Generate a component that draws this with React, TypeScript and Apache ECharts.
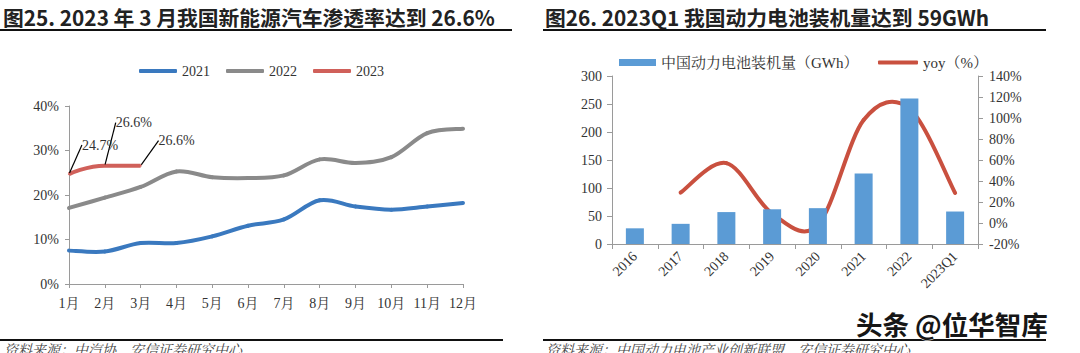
import React, { useEffect, useRef } from "react";
import * as echarts from "echarts";

const months = ["1月", "2月", "3月", "4月", "5月", "6月", "7月", "8月", "9月", "10月", "11月", "12月"];
const pen2021 = [7.5, 7.3, 9.2, 9.2, 10.7, 13.1, 14.5, 18.8, 17.4, 16.7, 17.4, 18.2];
const pen2022 = [17.1, 19.4, 21.8, 25.3, 24.0, 23.8, 24.4, 28.0, 27.2, 28.5, 33.9, 34.9];
const pen2023 = [24.7, 26.6, 26.6];
const penTicks = { min: 0, max: 40, interval: 10 };

const years = ["2016", "2017", "2018", "2019", "2020", "2021", "2022", "2023Q1"];
const installed = [28, 36, 57, 62, 64, 126, 260, 58];
const yoy: (number | null)[] = [null, 29, 57, 9, -2, 98, 109, 28.6];
const installTicks = { min: 0, max: 300, interval: 50 };
const yoyTicks = { min: -20, max: 140, interval: 20 };

const leftTitle = "图25. 2023 年 3 月我国新能源汽车渗透率达到 26.6%";
const rightTitle = "图26. 2023Q1 我国动力电池装机量达到 59GWh";
const leftSource = "资料来源：中汽协，安信证券研究中心";
const rightSource = "资料来源：中国动力电池产业创新联盟，安信证券研究中心";
const watermark = "头条 @位华智库";
const barName = "中国动力电池装机量（GWh）";
const yoyName = "yoy（%）";

const serif = "'Liberation Serif', 'Times New Roman', 'Noto Serif CJK SC', 'Noto Sans CJK SC', serif";
const sans = "'Noto Sans CJK SC', 'Noto Sans', sans-serif";
const axisColor = "#9a9a9a";
const textColor = "#333";

// Excel-like (Catmull-Rom) smoothed line drawn through the axes' own scales.
function smoothLine(name: string, values: (number | null)[], color: string, xAxisIndex: number, yAxisIndex: number) {
  return {
    name,
    type: "custom",
    xAxisIndex,
    yAxisIndex,
    data: values.map((v, i) => [i, v == null ? "-" : v]),
    encode: { x: 0, y: 1 },
    itemStyle: { color },
    clip: false,
    renderItem: (params: any, api: any) => {
      const i = params.dataIndex;
      const pts = values.map((v, k) => (v == null ? null : api.coord([k, v])));
      const p1 = pts[i];
      const p2 = pts[i + 1];
      if (!p1 || !p2) return { type: "group", children: [] };
      const p0 = pts[i - 1] || p1;
      const p3 = pts[i + 2] || p2;
      return {
        type: "bezierCurve",
        shape: {
          x1: p1[0],
          y1: p1[1],
          cpx1: p1[0] + (p2[0] - p0[0]) / 6,
          cpy1: p1[1] + (p2[1] - p0[1]) / 6,
          cpx2: p2[0] - (p3[0] - p1[0]) / 6,
          cpy2: p2[1] - (p3[1] - p1[1]) / 6,
          x2: p2[0],
          y2: p2[1],
        },
        style: { stroke: color, lineWidth: 4, fill: null, lineCap: "round" },
      };
    },
  };
}

export default function App() {
  const ref = useRef<HTMLDivElement>(null);
  useEffect(() => {
    document.body.style.margin = "0";
    if (!ref.current) return;
    const chart = echarts.init(ref.current, undefined, { renderer: "svg" });
    const axisLabel = { fontFamily: serif, fontSize: 14, color: textColor };
    const labelOffsets = [
      { dx: 31, dy: -16 },
      { dx: 29, dy: -30 },
      { dx: 36, dy: -12 },
    ];
    chart.setOption({
      animation: false,
      backgroundColor: "#fff",
      grid: [
        { left: 69, top: 106, width: 394, height: 178 },
        { left: 612, top: 76, width: 366, height: 168 },
      ],
      legend: [
        {
          data: ["2021", "2022", "2023"],
          left: 134,
          top: 59,
          icon: "roundRect",
          itemWidth: 38,
          itemHeight: 4,
          itemGap: 16,
          textStyle: { fontFamily: serif, fontSize: 14, color: textColor },
        },
        {
          data: [barName],
          left: 614,
          top: 50,
          icon: "rect",
          itemWidth: 37,
          itemHeight: 7,
          textStyle: { fontFamily: serif, fontSize: 15, color: textColor },
        },
        {
          data: [yoyName],
          left: 873,
          top: 50,
          icon: "roundRect",
          itemWidth: 40,
          itemHeight: 4,
          textStyle: { fontFamily: serif, fontSize: 15, color: textColor },
        },
      ],
      xAxis: [
        {
          gridIndex: 0,
          type: "category",
          data: months,
          boundaryGap: false,
          axisLine: { lineStyle: { color: axisColor } },
          axisTick: { show: true, length: 4, interval: 0, lineStyle: { color: axisColor } },
          axisLabel: { ...axisLabel, margin: 12, interval: 0 },
        },
        {
          gridIndex: 1,
          type: "category",
          data: years,
          boundaryGap: true,
          axisLine: { lineStyle: { color: axisColor } },
          axisTick: { show: true, length: 5, lineStyle: { color: axisColor } },
          axisLabel: { ...axisLabel, rotate: 45, margin: 10, interval: 0 },
        },
      ],
      yAxis: [
        {
          gridIndex: 0,
          type: "value",
          ...penTicks,
          axisLine: { show: true, lineStyle: { color: axisColor } },
          axisTick: { show: true, length: 4, lineStyle: { color: axisColor } },
          splitLine: { show: false },
          axisLabel: { ...axisLabel, formatter: "{value}%", margin: 10 },
        },
        {
          gridIndex: 1,
          type: "value",
          position: "left",
          ...installTicks,
          axisLine: { show: true, lineStyle: { color: axisColor } },
          axisTick: { show: true, length: 5, lineStyle: { color: axisColor } },
          splitLine: { show: false },
          axisLabel: { ...axisLabel, margin: 10 },
        },
        {
          gridIndex: 1,
          type: "value",
          position: "right",
          ...yoyTicks,
          axisLine: { show: true, lineStyle: { color: axisColor } },
          axisTick: { show: true, length: 5, lineStyle: { color: axisColor } },
          splitLine: { show: false },
          axisLabel: { ...axisLabel, formatter: "{value}%", margin: 11 },
        },
      ],
      series: [
        smoothLine("2021", pen2021, "#3a79bf", 0, 0),
        smoothLine("2022", pen2022, "#8a8a8a", 0, 0),
        {
          name: "2023",
          type: "line",
          xAxisIndex: 0,
          yAxisIndex: 0,
          data: pen2023,
          smooth: true,
          symbol: "circle",
          symbolSize: 2,
          lineStyle: { width: 4, color: "#d0605a" },
          itemStyle: { color: "#d0605a" },
          label: {
            show: true,
            position: "top",
            formatter: (p: any) => p.value.toFixed(1) + "%",
            fontFamily: serif,
            fontSize: 14,
            color: textColor,
          },
          labelLine: { show: true, lineStyle: { color: "#000", width: 1.2 } },
          labelLayout: (p: any) => labelOffsets[p.dataIndex],
        },
        {
          name: barName,
          type: "bar",
          xAxisIndex: 1,
          yAxisIndex: 1,
          data: installed,
          barWidth: 18,
          itemStyle: { color: "#5b9bd5" },
        },
        smoothLine(yoyName, yoy, "#c9503f", 1, 2),
      ],
      graphic: [
        {
          type: "text",
          x: 3,
          y: 17,
          style: { text: leftTitle, font: `bold 20.8px ${sans}`, fill: "#222", verticalAlign: "middle" },
        },
        { type: "line", shape: { x1: 0, y1: 30, x2: 512, y2: 30 }, style: { stroke: "#111", lineWidth: 2 } },
        {
          type: "text",
          x: 545,
          y: 17,
          style: { text: rightTitle, font: `bold 20.8px ${sans}`, fill: "#222", verticalAlign: "middle" },
        },
        { type: "line", shape: { x1: 543, y1: 30, x2: 1046, y2: 30 }, style: { stroke: "#111", lineWidth: 2 } },
        { type: "line", shape: { x1: 0, y1: 340, x2: 503, y2: 340 }, style: { stroke: "#111", lineWidth: 2 } },
        { type: "line", shape: { x1: 543, y1: 340, x2: 1046, y2: 340 }, style: { stroke: "#111", lineWidth: 2 } },
        {
          type: "text",
          x: 4,
          y: 343,
          style: { text: leftSource, font: `italic 14px ${serif}`, fill: "#444" },
        },
        {
          type: "text",
          x: 546,
          y: 343,
          style: { text: rightSource, font: `italic 14px ${serif}`, fill: "#444" },
        },
        {
          type: "text",
          x: 856,
          y: 323,
          style: {
            text: watermark,
            font: `bold 26.5px ${sans}`,
            fill: "#161616",
            stroke: "#fff",
            lineWidth: 1,
            verticalAlign: "middle",
          },
        },
      ],
    });
    return () => chart.dispose();
  }, []);
  return <div ref={ref} style={{ width: 1080, height: 353 }} />;
}
